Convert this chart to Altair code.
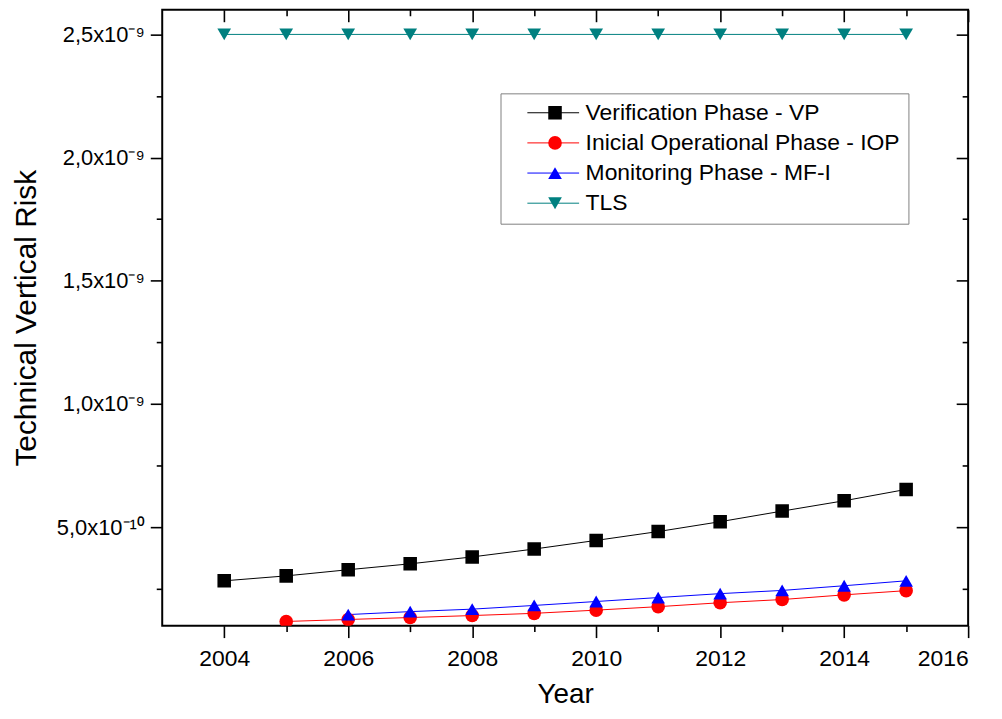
import json
import altair as alt
import pandas as pd

# ---------------- data ----------------
years = [2004, 2005, 2006, 2007, 2008, 2009, 2010, 2011, 2012, 2013, 2014, 2015]
series_names = [
    "Verification Phase - VP",
    "Inicial Operational Phase - IOP",
    "Monitoring Phase - MF-I",
    "TLS",
]
vp_values = [2.82e-10, 3.02e-10, 3.27e-10, 3.51e-10, 3.79e-10, 4.11e-10,
             4.46e-10, 4.82e-10, 5.22e-10, 5.65e-10, 6.07e-10, 6.53e-10]
iop_values = [None, 1.17e-10, 1.25e-10, 1.33e-10, 1.41e-10, 1.50e-10,
              1.63e-10, 1.77e-10, 1.93e-10, 2.06e-10, 2.25e-10, 2.42e-10]
mfi_values = [None, None, 1.45e-10, 1.57e-10, 1.67e-10, 1.82e-10,
              1.98e-10, 2.14e-10, 2.30e-10, 2.43e-10, 2.62e-10, 2.82e-10]
tls_values = [2.5e-9, 2.5e-9, 2.5e-9, 2.5e-9, 2.5e-9, 2.5e-9,
              2.5e-9, 2.5e-9, 2.5e-9, 2.5e-9, 2.5e-9, 2.5e-9]

x_major_ticks = [2004, 2006, 2008, 2010, 2012, 2014, 2016]
x_minor_ticks = [2005, 2007, 2009, 2011, 2013, 2015]
y_major_ticks = [5e-10, 1e-9, 1.5e-9, 2e-9, 2.5e-9]
y_major_labels = ["5,0x10⁻¹⁰", "1,0x10⁻⁹", "1,5x10⁻⁹", "2,0x10⁻⁹", "2,5x10⁻⁹"]
y_minor_ticks = [2.5e-10, 7.5e-10, 1.25e-9, 1.75e-9, 2.25e-9]

series_colors = ["#000000", "#ff0000", "#0000ff", "#008080"]
series_shapes = ["square", "circle", "triangle-up", "triangle-down"]
series_sizes = [185, 190, 340, 350]

rows = []
for name, vals in zip(series_names, [vp_values, iop_values, mfi_values, tls_values]):
    for yr, v in zip(years, vals):
        if v is not None:
            rows.append({"year": yr, "value": v, "series": name})
df = pd.DataFrame(rows)

FONT = "Liberation Sans"

x_scale = alt.Scale(domain=[2003, 2016], nice=False, zero=False)
y_scale = alt.Scale(domain=[1e-10, 2.6e-9], nice=False, zero=False)
color_scale = alt.Scale(domain=series_names, range=series_colors)
shape_scale = alt.Scale(domain=series_names, range=series_shapes)
size_scale = alt.Scale(domain=series_names, range=series_sizes)

y_label_expr = (
    json.dumps(y_major_labels, ensure_ascii=False)
    + "[round(datum.value / 5e-10) - 1]"
)

LEG_X = 340
LEG_Y = 84
LEG_FS = 23
LEG_ROWPAD = 6.3
LEG_PAD = 8

line_legend = alt.Legend(
    title=None, orient="none", legendX=LEG_X, legendY=LEG_Y,
    symbolType="M-4,0H4", symbolSize=169, symbolStrokeWidth=1,
    symbolOffset=33.5, labelOffset=21,
    labelFont=FONT, labelFontSize=LEG_FS, labelColor="#000000", labelLimit=600,
    padding=LEG_PAD, rowPadding=LEG_ROWPAD,
    strokeColor="#808080", fillColor="#ffffff",
)
point_legend = alt.Legend(
    title=None, orient="none", legendX=LEG_X, legendY=LEG_Y,
    symbolOffset=35.3, symbolStrokeWidth=0,
    labelExpr="''", labelFont=FONT, labelFontSize=LEG_FS, labelLimit=600,
    padding=LEG_PAD, rowPadding=LEG_ROWPAD,
)

base = alt.Chart(df)

lines = base.mark_line(strokeWidth=1, clip=True).encode(
    x=alt.X("year:Q", scale=x_scale, axis=alt.Axis(
        orient="bottom", values=x_major_ticks, format="d", tickSize=12,
        labelPadding=10, labelFontSize=23, domain=False, grid=False,
        title="Year", titleFontSize=28, titleFontWeight="normal",
        titleY=77, titleBaseline="alphabetic")),
    y=alt.Y("value:Q", scale=y_scale, axis=alt.Axis(
        orient="left", values=y_major_ticks, labelExpr=y_label_expr,
        tickSize=12, labelPadding=6, labelFontSize=22, domain=False, grid=False,
        title="Technical Vertical Risk", titleFontSize=30, titleFontWeight="normal",
        titleAngle=270, titleX=-127, titleY=309.5, titleAlign="center",
        titleBaseline="alphabetic")),
    color=alt.Color("series:N", scale=color_scale, legend=line_legend),
)

points = base.mark_point(filled=True, opacity=1, clip=True).encode(
    x=alt.X("year:Q", scale=x_scale, axis=alt.Axis(
        orient="bottom", values=x_minor_ticks, tickSize=6, labels=False,
        domain=False, grid=False, title=None)),
    y=alt.Y("value:Q", scale=y_scale, axis=alt.Axis(
        orient="left", values=y_minor_ticks, tickSize=6, labels=False,
        domain=False, grid=False, title=None)),
    color=alt.Color("series:N", scale=color_scale, legend=point_legend),
    shape=alt.Shape("series:N", scale=shape_scale, legend=point_legend),
    size=alt.Size("series:N", scale=size_scale, legend=point_legend),
)

mirror_major = base.mark_point(opacity=0, size=1).encode(
    x=alt.X("year:Q", scale=x_scale, axis=alt.Axis(
        orient="top", values=x_major_ticks, tickSize=12, offset=-12,
        labels=False, domain=False, grid=False, title=None)),
    y=alt.Y("value:Q", scale=y_scale, axis=alt.Axis(
        orient="right", values=y_major_ticks, tickSize=12, offset=-12,
        labels=False, domain=False, grid=False, title=None)),
)

mirror_minor = base.mark_point(opacity=0, size=1).encode(
    x=alt.X("year:Q", scale=x_scale, axis=alt.Axis(
        orient="top", values=x_minor_ticks, tickSize=6, offset=-6,
        labels=False, domain=False, grid=False, title=None)),
    y=alt.Y("value:Q", scale=y_scale, axis=alt.Axis(
        orient="right", values=y_minor_ticks, tickSize=6, offset=-6,
        labels=False, domain=False, grid=False, title=None)),
)

chart = (
    alt.layer(lines, points, mirror_major, mirror_minor)
    .resolve_axis(x="independent", y="independent")
    .resolve_legend(color="independent", shape="independent", size="independent")
    .properties(
        width=810, height=619,
        autosize=alt.AutoSizeParams(type="none"),
        padding={"left": 155, "top": 0, "right": 26, "bottom": 85},
        background="white",
    )
    .configure_view(stroke="#000000", strokeWidth=2)
    .configure_axis(
        labelFont=FONT, titleFont=FONT, labelColor="#000000", titleColor="#000000",
        tickColor="#000000", tickWidth=1.6,
    )
    .configure_legend(labelFont=FONT)
)

chart.save("out.html", embed_options={"renderer": "svg", "actions": False})
